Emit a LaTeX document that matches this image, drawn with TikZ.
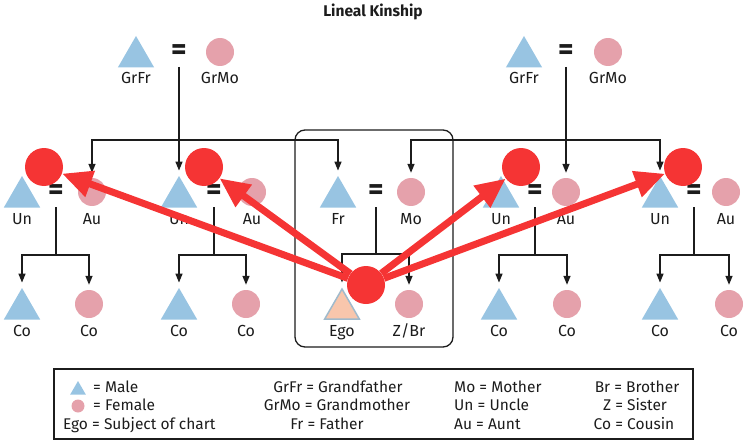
\documentclass[tikz,border=0pt]{standalone}
\usepackage{fontspec}
\setmainfont{Fira Sans}
\usepackage{tikz}
\usetikzlibrary{arrows.meta, positioning, shapes.geometric, calc}
\definecolor{maleblue}{RGB}{152,196,226}
\definecolor{femalepink}{RGB}{229,161,171}
\definecolor{egopeach}{RGB}{248,198,172}
\definecolor{egoedge}{RGB}{160,186,204}
\definecolor{markred}{RGB}{245,52,52}
\definecolor{ink}{RGB}{28,28,28}

\begin{document}
\begin{tikzpicture}[
      x=1pt, y=-1pt,
      >={Triangle[length=9pt,width=7pt]},
      male/.style={regular polygon, regular polygon sides=3, fill=maleblue, minimum size=42pt, inner sep=0},
      female/.style={circle, fill=femalepink, minimum size=28pt, inner sep=0},
      egosym/.style={regular polygon, regular polygon sides=3, fill=egopeach, draw=egoedge, line width=1.5pt, minimum size=40pt, inner sep=0},
      lbl/.style={anchor=base, inner sep=0, font=\fontsize{16}{18}\selectfont, text=ink},
      keylbl/.style={lbl, font=\fontsize{15.5}{18}\selectfont},
      eqs/.style={inner sep=0, font=\bfseries\fontsize{30}{30}\selectfont, text=ink},
      kin/.style={draw=ink, line width=1.4pt},
      redc/.style={circle, fill=markred, minimum size=38pt, inner sep=0},
      redarr/.style={draw=markred, line width=7pt, -{Triangle[length=30pt,width=26pt]}}
    ]
      \useasboundingbox (0,0) rectangle (747,444);

      \node[anchor=base, font=\bfseries\fontsize{15.5}{17}\selectfont, text=ink] (title) at (373,17) {Lineal Kinship};

      \foreach \n/\x/\y/\t in {grfrA/136/52/GrFr, grfrB/524/52/GrFr,
          un1/22/192/Un, un2/179/192/Un, fr/338/192/Fr, un3/501/192/Un, un4/660/192/Un,
          co1a/22/304/Co, co2a/179/304/Co, co3a/499/304/Co, co4a/660/304/Co}
        {\node[male] (\n) at (\x,\y+5) {};
         \node[lbl] (\n-l) at (\x,\y+32) {\t};}

      \foreach \n/\x/\y/\t in {grmoA/220/52/GrMo, grmoB/608/52/GrMo,
          au1/92/192/Au, au2/252/192/Au, mo/411/192/Mo, au3/566/192/Au, au4/726/192/Au,
          co1b/89/304/Co, co2b/246/304/Co, co3b/567/304/Co, co4b/729/304/Co}
        {\node[female] (\n) at (\x,\y) {};
         \node[lbl] (\n-l) at (\x,\y+32) {\t};}

      \node[egosym] (ego) at (342,309) {};
      \node[lbl] (ego-l) at (342,336) {Ego};
      \node[female] (zbr) at (409,304) {};
      \node[lbl] (zbr-l) at (409,336) {Z/Br};

      \foreach \n/\x/\y in {eqA/179/52, eqB/566/52, eq1/56/192, eq2/214/192,
          eqF/376/192, eq3/535/192, eq4/694/192}
        \node[eqs] (\n) at (\x,\y) {=};

      \coordinate (barA) at (179,140);
      \coordinate (barB) at (566,140);
      \coordinate (bar1) at (56,255);
      \coordinate (bar2) at (214,255);
      \coordinate (barF) at (376,254);
      \coordinate (bar3) at (535,255);
      \coordinate (bar4) at (694,255);

      \draw[kin, ->, shorten >=5pt] ([yshift=-15pt]eqA.center) -- (un2.north);
      \draw[kin, <->, shorten <=5pt, shorten >=5pt] (au1.north) |- (barA) -| (fr.north);
      \draw[kin, ->, shorten >=5pt] ([yshift=-15pt]eqB.center) -- (au3.north);
      \draw[kin, <->, shorten <=5pt, shorten >=5pt] (mo.north) |- (barB) -| (un4.north);

      \draw[kin] ([yshift=-15pt]eq1.center) -- (bar1);
      \draw[kin, <->, shorten <=5pt, shorten >=5pt] (co1a.north) |- (bar1) -| (co1b.north);
      \draw[kin] ([yshift=-15pt]eq2.center) -- (bar2);
      \draw[kin, <->, shorten <=5pt, shorten >=5pt] (co2a.north) |- (bar2) -| (co2b.north);
      \draw[kin] ([yshift=-15pt]eqF.center) -- (barF);
      \draw[kin, <->, shorten <=5pt, shorten >=5pt] (ego.north) |- (barF) -| (zbr.north);
      \draw[kin] ([yshift=-15pt]eq3.center) -- (bar3);
      \draw[kin, <->, shorten <=5pt, shorten >=5pt] (co3a.north) |- (bar3) -| (co3b.north);
      \draw[kin] ([yshift=-15pt]eq4.center) -- (bar4);
      \draw[kin, <->, shorten <=5pt, shorten >=5pt] (co4a.north) |- (bar4) -| (co4b.north);

      \node[draw=ink, line width=1.3pt, rounded corners=10pt, minimum width=158pt, minimum height=217pt, inner sep=0] (nuclear) at (374,238.5) {};

      \node[redc] (r1) at (44,167) {};
      \node[redc] (r2) at (204,167) {};
      \node[redc] (r3) at (521,167) {};
      \node[redc] (r4) at (683,167) {};
      \node[redc] (egoR) at (366,285) {};
      \foreach \t in {r1,r2,r3,r4}
        \draw[redarr] (egoR) -- (\t);

      \node[draw=ink, line width=1.8pt, minimum width=639pt, minimum height=70pt, inner sep=0] (key) at (373.5,404) {};
      \node[male, minimum size=18pt] (keyM) at (78,390) {};
      \node[female, minimum size=13pt] (keyF) at (78,406) {};
      \node[keylbl, anchor=base west] (keyM-t) at (93,392) {= Male};
      \node[keylbl, anchor=base west] (keyF-t) at (93,410.5) {= Female};
      \node[keylbl, anchor=base west] (keyE-t) at (63,429) {Ego = Subject of chart};
      \node[keylbl] (keyGF) at (338,392) {GrFr = Grandfather};
      \node[keylbl] (keyGM) at (337,410.5) {GrMo = Grandmother};
      \node[keylbl] (keyFr) at (327,429) {Fr = Father};
      \node[keylbl, anchor=base west] (keyMo) at (454,392) {Mo = Mother};
      \node[keylbl, anchor=base west] (keyUn) at (454,410.5) {Un = Uncle};
      \node[keylbl, anchor=base west] (keyAu) at (454,429) {Au = Aunt};
      \node[keylbl] (keyBr) at (637,392) {Br = Brother};
      \node[keylbl] (keyZ) at (635,410.5) {Z = Sister};
      \node[keylbl] (keyCo) at (634,429) {Co = Cousin};
    \end{tikzpicture}
\end{document}
